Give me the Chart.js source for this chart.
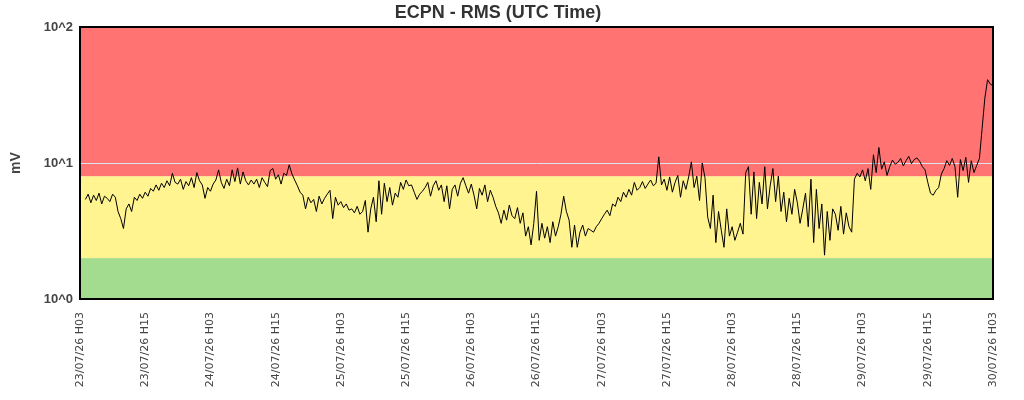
<!DOCTYPE html>
<html>
<head>
<meta charset="utf-8">
<script src="https://cdn.jsdelivr.net/npm/chart.js@4/dist/chart.umd.min.js"></script>
<style>
  html, body { margin: 0; padding: 0; background: #fff; }
  #wrap { width: 1024px; height: 400px; }
</style>
</head>
<body>
<div id="wrap"><canvas id="rms"></canvas></div>
<script>
// RMS readings (mV), one every 30 min, starting 23/07/26 04:00 UTC
const startHour = 1;
const stepHours = 0.5;
const rmsValues = [
  5.4, 5.9, 5.1, 5.8, 5.3, 6.0, 5.0, 5.7, 5.5, 5.2, 5.9, 5.6,
  4.4, 3.9, 3.3, 4.6, 5.0, 4.4, 5.6, 5.3, 5.9, 5.5, 6.1, 5.7,
  6.5, 6.2, 6.9, 6.3, 7.1, 6.6, 7.4, 6.8, 8.4, 7.2, 7.0, 7.6,
  6.4, 7.3, 6.8, 7.8, 6.6, 8.5, 7.4, 6.9, 5.5, 6.6, 6.2, 7.0,
  7.5, 8.9, 7.2, 6.5, 7.6, 6.8, 8.9, 7.3, 9.2, 7.0, 8.6, 7.4,
  6.9, 7.5, 7.0, 7.6, 6.6, 7.8, 7.2, 6.7, 8.8, 9.1, 7.6, 8.2,
  7.0, 8.4, 8.1, 9.7, 8.3, 7.5, 6.8, 6.1, 5.8, 4.6, 5.6, 5.1,
  5.4, 4.4, 5.7, 5.0, 5.5, 5.9, 6.3, 3.9, 5.6, 4.9, 5.2, 4.7,
  5.0, 4.5, 4.6, 4.3, 4.8, 4.2, 4.4, 5.3, 3.1, 4.6, 5.6, 3.7,
  7.4, 4.2, 7.1, 5.2, 6.6, 4.9, 6.0, 5.6, 7.2, 6.4, 7.5, 6.8,
  6.9, 6.1, 5.4, 5.9, 6.2, 6.6, 7.2, 5.7, 6.8, 7.4, 6.3, 6.9,
  5.2, 6.8, 4.6, 6.4, 6.9, 5.7, 7.1, 7.8, 6.8, 6.0, 7.0, 5.8,
  4.6, 6.5, 5.8, 6.9, 5.2, 6.3, 5.6, 4.8, 4.3, 3.6, 4.5, 3.8,
  4.9, 4.1, 3.9, 4.7, 3.6, 4.3, 2.9, 3.4, 2.5, 3.6, 6.2, 2.7,
  3.6, 2.8, 3.4, 2.6, 3.7, 2.9, 3.4, 4.2, 5.7, 4.4, 3.8, 2.4,
  3.5, 2.4, 3.1, 3.5, 2.9, 3.3, 3.2, 3.1, 3.4, 3.6, 3.9, 4.2,
  4.5, 4.1, 5.0, 4.8, 5.6, 5.2, 6.1, 5.6, 6.4, 5.8, 7.2, 6.3,
  6.6, 7.3, 6.5, 7.0, 7.5, 6.8, 7.1, 11.1, 6.9, 7.6, 6.3, 7.9,
  6.1, 7.2, 8.1, 5.6, 7.4, 6.4, 7.9, 10.2, 6.6, 8.0, 5.3, 10.0,
  7.8, 4.0, 3.3, 5.8, 2.6, 4.4, 3.2, 2.4, 4.6, 2.9, 3.4, 2.7,
  3.1, 3.6, 3.0, 8.5, 9.4, 4.2, 8.6, 3.9, 7.2, 5.0, 9.4, 4.6,
  6.8, 9.1, 5.2, 8.0, 4.4, 6.1, 3.7, 5.5, 4.2, 6.4, 5.1, 3.6,
  4.6, 6.0, 3.4, 7.6, 2.6, 6.4, 3.3, 5.0, 2.1, 4.4, 2.7, 4.6,
  4.2, 3.2, 4.8, 3.0, 4.3, 3.4, 3.1, 7.6, 8.4, 7.9, 8.9, 7.4,
  9.1, 6.4, 11.5, 8.5, 13.0, 9.0, 10.2, 8.1, 9.4, 10.5, 9.8, 10.1,
  10.8, 9.5, 10.4, 11.2, 9.9, 10.6, 10.9, 10.3, 9.4, 8.9, 7.2, 6.0,
  5.8, 6.3, 6.6, 8.3, 9.1, 10.4, 9.6, 10.8, 9.4, 5.6, 10.6, 8.8,
  11.0, 7.2, 10.4, 8.5, 9.6, 10.8, 18.0, 30.0, 41.0, 38.0, 37.0
];

// x axis: hours since 23/07/26 03:00, a label every 12 h
const xTickLabels = [
  '23/07/26 H03', '23/07/26 H15', '24/07/26 H03', '24/07/26 H15',
  '25/07/26 H03', '25/07/26 H15', '26/07/26 H03', '26/07/26 H15',
  '27/07/26 H03', '27/07/26 H15', '28/07/26 H03', '28/07/26 H15',
  '29/07/26 H03', '29/07/26 H15', '30/07/26 H03'
];
const yTicks = [1, 10, 100];
const yTickLabels = ['10^0', '10^1', '10^2'];

// alarm bands (mV)
const bandLimits = [1, 2, 8, 100];
const bandColors = ['#a3db8f', '#fff48f', '#ff7373'];

const points = rmsValues.map((v, i) => ({ x: startHour + i * stepHours, y: v }));

const bandsPlugin = {
  id: 'bands',
  beforeDraw(chart) {
    const { ctx, chartArea: a, scales: { y } } = chart;
    ctx.save();
    for (let i = 0; i < bandColors.length; i++) {
      const top = y.getPixelForValue(bandLimits[i + 1]);
      const bottom = y.getPixelForValue(bandLimits[i]);
      ctx.fillStyle = bandColors[i];
      ctx.fillRect(a.left, top, a.right - a.left, bottom - top);
    }
    ctx.restore();
  },
  afterDraw(chart) {
    const { ctx, chartArea: a } = chart;
    ctx.save();
    ctx.strokeStyle = '#000';
    ctx.lineWidth = 2;
    ctx.strokeRect(a.left, a.top, a.right - a.left, a.bottom - a.top);
    ctx.fillStyle = '#333';
    ctx.font = 'bold 18px "Liberation Sans", Arial, sans-serif';
    ctx.textAlign = 'center';
    ctx.textBaseline = 'middle';
    ctx.fillText('ECPN - RMS (UTC Time)', 498, 13);
    ctx.restore();
  }
};

new Chart(document.getElementById('rms').getContext('2d'), {
  type: 'line',
  data: {
    datasets: [{
      data: points,
      borderColor: '#000',
      borderWidth: 1,
      pointRadius: 0,
      tension: 0,
      fill: false
    }]
  },
  options: {
    responsive: true,
    maintainAspectRatio: false,
    animation: false,
    layout: { padding: { left: 0, right: 31, top: 27, bottom: 0 } },
    plugins: {
      legend: { display: false },
      tooltip: { enabled: false }
    },
    scales: {
      x: {
        type: 'linear',
        min: 0,
        max: 168,
        afterFit: s => { s.height = 101; },
        grid: { display: false, drawTicks: false },
        border: { display: false },
        ticks: {
          stepSize: 12,
          autoSkip: false,
          minRotation: 90,
          maxRotation: 90,
          padding: 13,
          color: '#444',
          font: { family: '"DejaVu Sans", sans-serif', size: 11 },
          callback: v => xTickLabels[v / 12]
        }
      },
      y: {
        type: 'logarithmic',
        min: 1,
        max: 100,
        afterFit: s => { s.width = 80; },
        afterBuildTicks: s => { s.ticks = yTicks.map(v => ({ value: v })); },
        grid: { color: '#dde3ea', lineWidth: 1, drawTicks: false },
        border: { display: false },
        title: {
          display: true,
          text: 'mV',
          color: '#444',
          font: { family: '"Liberation Sans", Arial, sans-serif', size: 14, weight: 'bold' },
          padding: { top: 8, bottom: 0 }
        },
        ticks: {
          padding: 7,
          color: '#444',
          font: { family: '"Liberation Sans", Arial, sans-serif', size: 13, weight: 'bold' },
          callback: v => yTickLabels[yTicks.indexOf(v)]
        }
      }
    }
  },
  plugins: [bandsPlugin]
});
</script>
</body>
</html>
